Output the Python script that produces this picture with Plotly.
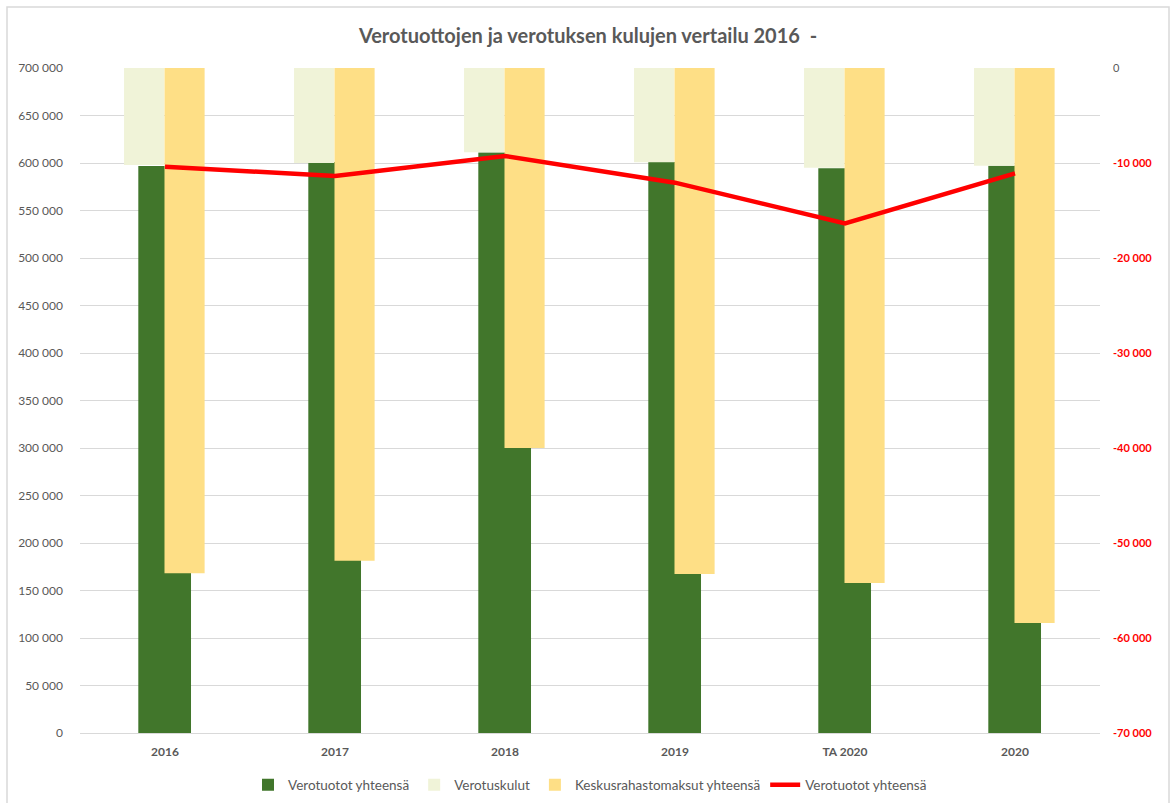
import plotly.graph_objects as go

categories = ["2016", "2017", "2018", "2019", "TA 2020", "2020"]
verotuotot = [596800, 601000, 611000, 601000, 594500, 597000]
verotuskulut = [-10200, -10000, -8870, -9930, -10500, -10300]
keskusrahasto = [-53190, -51860, -40000, -53260, -54210, -58420]
verotuotot_line = [-10390, -11370, -9260, -12070, -16350, -11100]

left_ticks = list(range(0, 700001, 50000))
left_labels = [f"{v:,}".replace(",", " ") for v in left_ticks]
right_ticks = list(range(-70000, 1, 10000))
right_labels = [f"{v:,}".replace(",", " ") for v in right_ticks]

GREY = "#595959"
FONT = "Lato"

right_text = [
    (f"<span style='color:{GREY}'>{t}</span>" if v == 0 else f"<b>{t}</b>")
    for v, t in zip(right_ticks, right_labels)
]

fig = go.Figure()
fig.add_trace(go.Bar(
    x=categories, y=verotuotot, name="Verotuotot yhteensä",
    marker=dict(color="#41762B", line=dict(width=0)),
    width=0.31, offset=-0.157, yaxis="y",
))
fig.add_trace(go.Bar(
    x=categories, y=verotuskulut, name="Verotuskulut",
    marker=dict(color="#F0F3D8", line=dict(width=0)),
    width=0.236, offset=-0.241, yaxis="y2",
))
fig.add_trace(go.Bar(
    x=categories, y=keskusrahasto, name="Keskusrahastomaksut yhteensä",
    marker=dict(color="#FEDF86", line=dict(width=0)),
    width=0.236, offset=-0.003, yaxis="y2",
))
fig.add_trace(go.Scatter(
    x=categories, y=verotuotot_line, name="Verotuotot yhteensä",
    mode="lines", line=dict(color="#FF0000", width=4.5), yaxis="y2",
))

fig.update_layout(
    width=1176, height=803,
    margin=dict(l=80, r=76, t=68, b=70, autoexpand=False),
    paper_bgcolor="white", plot_bgcolor="white",
    font=dict(family=FONT, color=GREY, size=12),
    title=dict(
        text="<b>Verotuottojen ja verotuksen kulujen vertailu 2016  -</b>",
        x=0.5, xanchor="center", y=0.955, yanchor="middle",
        font=dict(size=20, color=GREY, family=FONT),
    ),
    barmode="overlay",
    xaxis=dict(
        type="category", range=[-0.5, 5.5],
        showline=True, linecolor="#D9D9D9", linewidth=1,
        showgrid=False, ticks="", ticklabelstandoff=8,
        tickfont=dict(size=12, color=GREY, family=FONT, weight="bold"),
    ),
    yaxis=dict(
        range=[0, 700000], tickvals=left_ticks, ticktext=left_labels,
        showgrid=True, gridcolor="#D9D9D9", gridwidth=1,
        zeroline=False, showline=False, ticks="",
        ticklabelstandoff=16,
        tickfont=dict(size=12, color=GREY, family=FONT),
    ),
    yaxis2=dict(
        range=[-70000, 0], overlaying="y", side="right",
        tickvals=right_ticks, ticktext=right_text,
        showgrid=False, zeroline=False, showline=False, ticks="",
        ticklabelstandoff=12,
        tickfont=dict(size=11, color="#FF0000", family=FONT),
    ),
    legend=dict(
        orientation="h", x=0.5, xanchor="center",
        y=(733 - 785) / 665, yanchor="middle",
        font=dict(size=13.5, color=GREY, family=FONT),
        traceorder="normal", itemwidth=30,
    ),
    shapes=[dict(
        type="rect", xref="paper", yref="paper",
        x0=(7 - 80) / 1020, x1=(1169 - 80) / 1020,
        y0=(733 - 810) / 665, y1=(733 - 7) / 665,
        line=dict(color="#D9D9D9", width=1.5), fillcolor="rgba(0,0,0,0)",
        layer="below",
    )],
)

fig.write_html(
    "out.html",
    config={"displayModeBar": False},
    post_script="document.body.style.margin='0';document.body.style.overflow='hidden';",
)
